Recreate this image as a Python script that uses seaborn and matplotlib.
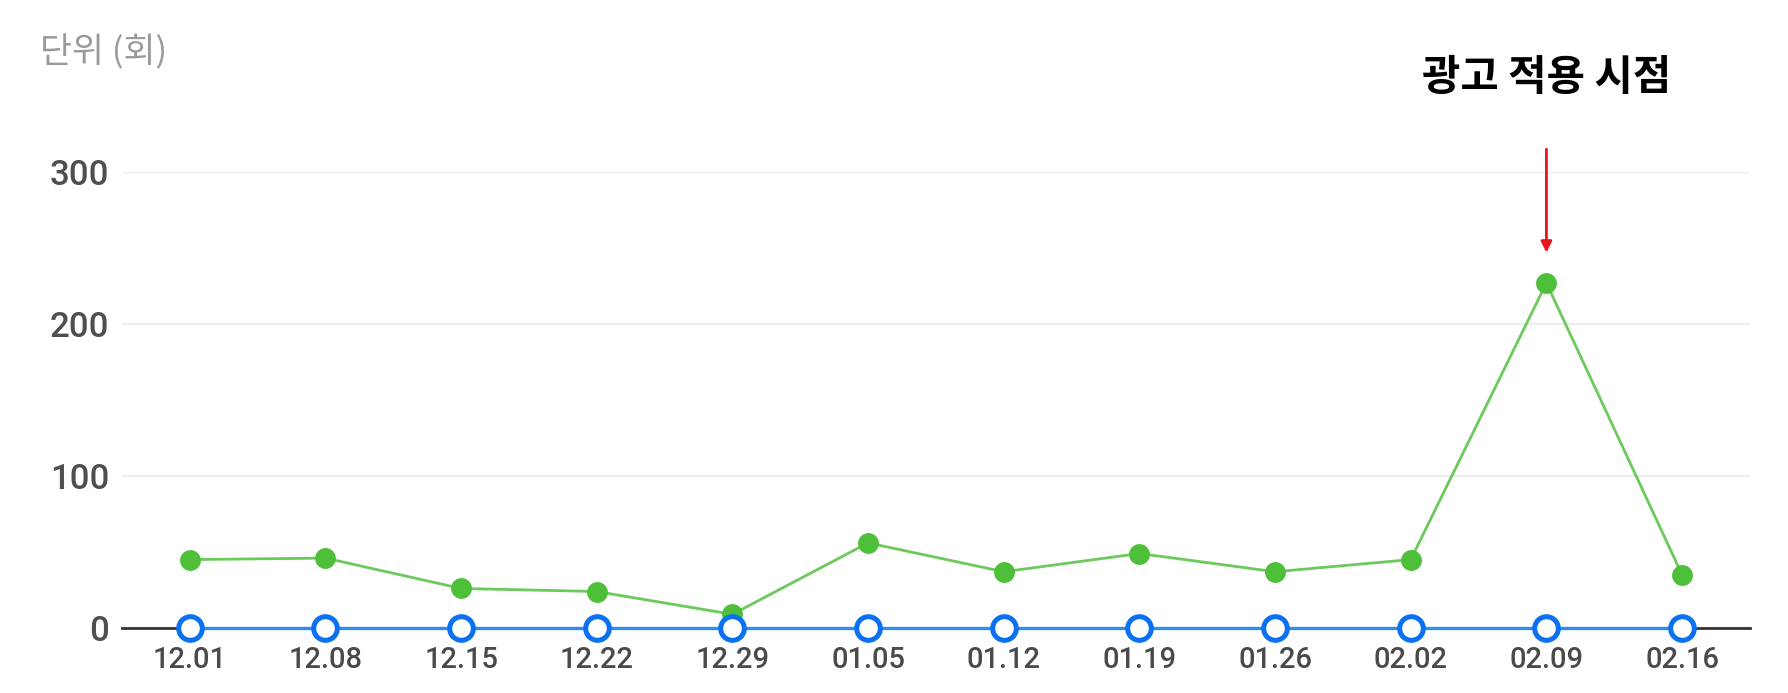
import matplotlib
matplotlib.use("Agg")
import matplotlib.pyplot as plt
import numpy as np
import pandas as pd
import seaborn as sns

# weekly counts (unit: 회)
weeks = ["12.01", "12.08", "12.15", "12.22", "12.29", "01.05",
         "01.12", "01.19", "01.26", "02.02", "02.09", "02.16"]
green_counts = [45, 46, 26, 24, 9, 56, 37, 49, 37, 45, 227, 35]
blue_counts = [0, 0, 0, 0, 0, 0, 0, 0, 0, 0, 0, 0]
y_ticks = [0, 100, 200, 300]
ad_week = "02.09"
ad_label = "광고 적용 시점"
unit_label = "단위 (회)"

sns.set_style("white")
plt.rcParams["font.family"] = ["Roboto", "Noto Sans CJK KR", "DejaVu Sans"]

df = pd.DataFrame({
    "pos": np.arange(len(weeks)),
    "week": weeks,
    "green": green_counts,
    "blue": blue_counts,
})

fig = plt.figure(figsize=(17.88, 6.93), dpi=100)
ax = fig.add_axes([0.0682, 0.0938, 0.9105, 0.658])

sns.lineplot(data=df, x="pos", y="green", ax=ax, color="#6cc95c", linewidth=2,
             marker="o", markersize=15, markerfacecolor="#4dbf39",
             markeredgecolor="#4dbf39", markeredgewidth=0, zorder=3, clip_on=False)
sns.lineplot(data=df, x="pos", y="blue", ax=ax, color="#2f8cf0", linewidth=2.4,
             marker="o", markersize=17, markerfacecolor="white",
             markeredgecolor="#0a72f0", markeredgewidth=3.6, zorder=4, clip_on=False)

ax.set_xlim(-0.5, len(weeks) - 0.5)
ax.set_ylim(0, 300)
ax.set_xticks(df["pos"])
ax.set_xticklabels(weeks)
ax.set_yticks(y_ticks)
ax.set_xlabel("")
ax.set_ylabel("")

ax.grid(axis="y", color="#ececec", linewidth=1.5)
ax.set_axisbelow(True)
for side in ["top", "right", "left"]:
    ax.spines[side].set_visible(False)
ax.spines["bottom"].set_color("#333333")
ax.spines["bottom"].set_linewidth(2)
ax.spines["bottom"].set_zorder(2)

ax.tick_params(axis="x", length=0, pad=13, labelsize=21, labelcolor="#4a4a4a")
ax.tick_params(axis="y", length=0, pad=9, labelsize=25, labelcolor="#4f4f4f")
for lab in ax.get_xticklabels() + ax.get_yticklabels():
    lab.set_fontweight("medium")

# annotation for the ad start week
ad_pos = weeks.index(ad_week)
ax.annotate("", xy=(ad_pos, 247), xytext=(ad_pos, 315),
            arrowprops=dict(arrowstyle="-|>", color="#e8141b", lw=2,
                            mutation_scale=16, shrinkA=0, shrinkB=0),
            annotation_clip=False)
ax.text(ad_pos, 362, ad_label, ha="center", va="center", fontsize=30,
        fontweight="bold", color="black", family=["Noto Sans CJK KR", "DejaVu Sans"],
        clip_on=False)

fig.text(40 / 1788, 1 - 53 / 693, unit_label, ha="left", va="center",
         fontsize=25, color="#9a9a9a", family=["Noto Sans CJK KR", "DejaVu Sans"])

fig.savefig("out.png", dpi=100)
